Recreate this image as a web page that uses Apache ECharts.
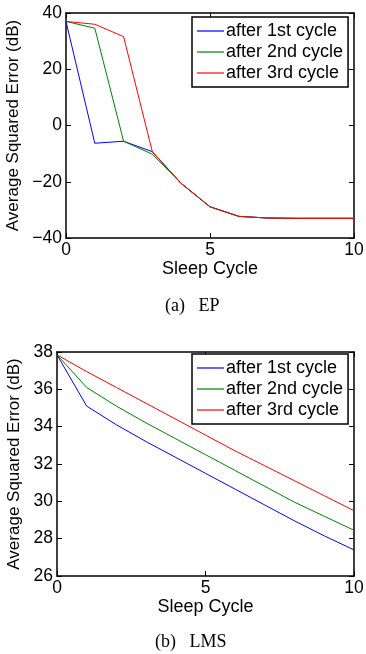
<!DOCTYPE html>
<html><head><meta charset="utf-8">
<script src="https://cdn.jsdelivr.net/npm/echarts@6/dist/echarts.min.js"></script>
<style>html,body{margin:0;padding:0;background:#fff}#c{width:366px;height:654px}</style>
</head><body><div id="c"></div>
<script>
const sleepCycles = [0,1,2,3,4,5,6,7,8,9,10];
const seriesNames = ['after 1st cycle','after 2nd cycle','after 3rd cycle'];
const colors = ['#0000ff','#008000','#ff0000'];
// (a) EP
const ep1 = [37.0,-6.3,-5.6,-9.3,-20.6,-28.9,-32.3,-32.9,-33.0,-33.0,-33.0];
const ep2 = [37.0,34.6,-5.6,-10.2,-20.6,-28.9,-32.3,-32.9,-33.0,-33.0,-33.0];
const ep3 = [37.0,36.0,31.6,-9.4,-20.6,-28.9,-32.3,-32.9,-33.0,-33.0,-33.0];
// (b) LMS
const lms1 = [37.85,35.1,34.1,33.2,32.35,31.5,30.65,29.8,28.95,28.15,27.4];
const lms2 = [37.85,36.1,35.1,34.2,33.35,32.5,31.65,30.8,29.95,29.2,28.45];
const lms3 = [37.85,36.95,36.1,35.25,34.4,33.55,32.7,31.9,31.1,30.3,29.5];
const epTicks = {min:-40,max:40,interval:20};
const lmsTicks = {min:26,max:38,interval:2};
const xTicks = {min:0,max:10,interval:5};

const font = 'Liberation Sans, Arial, sans-serif';
const serif = 'Liberation Serif, Times New Roman, serif';
const chart = echarts.init(document.getElementById('c'), null, {renderer:'canvas'});
const lineStyleAxis = {color:'#000', width:1.5};
const fmt = v => String(v).replace('-', '\u2212');
function xAx(grid, primary, gap){
  return {type:'value', gridIndex:grid, position: primary?'bottom':'top', min:xTicks.min, max:xTicks.max, interval:xTicks.interval,
    name: primary?'Sleep Cycle':'', nameLocation:'middle', nameGap:gap,
    nameTextStyle:{fontFamily:font,fontSize:18,color:'#000'},
    axisLine:{show:true,onZero:false,lineStyle:lineStyleAxis},
    axisTick:{show:true,inside:true,length:5,lineStyle:{color:'#000',width:1}},
    axisLabel:{show:primary,margin:3,fontFamily:font,fontSize:17.5,color:'#000',formatter:fmt},
    splitLine:{show:false}};
}
function yAx(grid, primary, t, gap){
  return {type:'value', gridIndex:grid, position: primary?'left':'right', min:t.min, max:t.max, interval:t.interval,
    name: primary?'Average Squared Error (dB)':'', nameLocation:'middle', nameGap:gap,
    nameTextStyle:{fontFamily:font,fontSize:17,color:'#000'},
    axisLine:{show:true,onZero:false,lineStyle:lineStyleAxis},
    axisTick:{show:true,inside:true,length:5,lineStyle:{color:'#000',width:1}},
    axisLabel:{show:primary,margin:4,fontFamily:font,fontSize:17.5,color:'#000',formatter:fmt},
    splitLine:{show:false}};
}
function mk(data){ return sleepCycles.map((x,i)=>[x,data[i]]); }
const epData=[ep1,ep2,ep3], lmsData=[lms1,lms2,lms3];
const series=[];
epData.forEach((d,i)=>series.push({name:seriesNames[i],type:'line',xAxisIndex:0,yAxisIndex:0,data:mk(d),showSymbol:false,symbol:'none',lineStyle:{color:colors[i],width:1},itemStyle:{color:colors[i]},animation:false}));
lmsData.forEach((d,i)=>series.push({name:seriesNames[i],type:'line',xAxisIndex:2,yAxisIndex:2,data:mk(d),showSymbol:false,symbol:'none',lineStyle:{color:colors[i],width:1},itemStyle:{color:colors[i]},animation:false}));
function legend(top){
  return {data:seriesNames, left:192, top:top, orient:'vertical', icon:'rect', itemWidth:27, itemHeight:1.2, itemGap:3,
    padding:[5,5,5,5], borderColor:'#000', borderWidth:1.5, backgroundColor:'#fff',
    textStyle:{fontFamily:font,fontSize:18,color:'#000',padding:[0,0,0,-3]}, selectedMode:false};
}
const capStyle = {fontFamily:serif,fontSize:18,fontWeight:'normal',color:'#000'};
chart.setOption({
  animation:false,
  grid:[{left:66,top:13,width:288,height:225,outerBoundsMode:'none',containLabel:false},
        {left:57,top:352,width:297,height:224,outerBoundsMode:'none',containLabel:false}],
  xAxis:[xAx(0,true,22),xAx(0,false,0),xAx(1,true,22),xAx(1,false,0)],
  yAxis:[yAx(0,true,epTicks,38),yAx(0,false,epTicks,0),yAx(1,true,lmsTicks,29),yAx(1,false,lmsTicks,0)],
  legend:[legend(17),legend(354)],
  title:[{text:'(a)\u2002\u2005EP',left:165,top:297,textStyle:capStyle,padding:0},
         {text:'(b)\u2002\u2005LMS',left:155,top:633,textStyle:capStyle,padding:0}],
  series:series
});
</script></body></html>
